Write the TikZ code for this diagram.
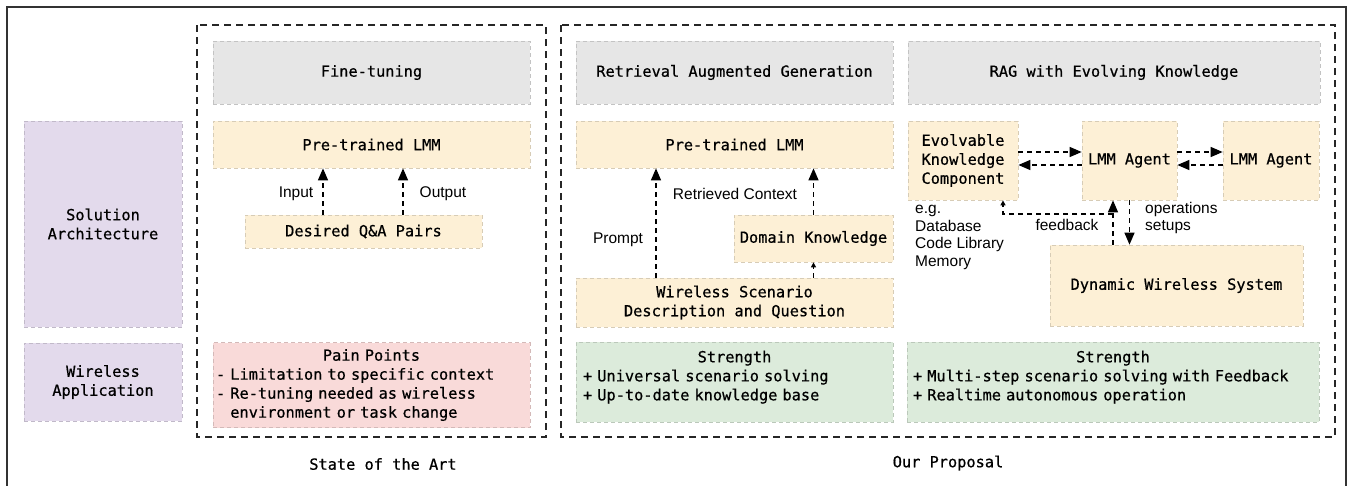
\documentclass[tikz,border=0pt]{standalone}
\usepackage{fontspec}
\setmainfont{Liberation Sans}
\setmonofont{DejaVu Sans Mono}[FakeBold=0.6]
\usetikzlibrary{arrows.meta,positioning}

\definecolor{hdrgray}{HTML}{E6E6E6}
\definecolor{lmmyellow}{HTML}{FDF0D6}
\definecolor{rowpurple}{HTML}{E3DAEC}
\definecolor{painred}{HTML}{F9DAD9}
\definecolor{strgreen}{HTML}{DCEBDB}

\begin{document}
\begin{tikzpicture}[x=1pt, y=-1pt,
  mono/.style={font=\ttfamily\fontsize{15.3}{19}\selectfont},
  lbl/.style={font=\fontsize{15.5}{17.6}\selectfont, align=left, inner sep=0pt},
  blk/.style={mono, fill=#1, draw=#1!85!black, dash pattern=on 4pt off 3pt,
              line width=0.7pt, align=center, inner sep=0pt},
  group/.style={draw=black!85, dash pattern=on 7pt off 5pt, line width=1.4pt},
  flow/.style={draw=black, dash pattern=on 5pt off 4pt, line width=1.3pt,
               -{Triangle[length=12pt,width=10pt]}},
  tinyflow/.style={flow, -{Triangle[length=5pt,width=5pt]}}]

\useasboundingbox (0,0) rectangle (1352,485);
\fill[white] (0,0) rectangle (1352,485);

% outer frame (open at the bottom)
\draw[black!80, line width=1.4pt] (7,486) -- (7,7) -- (1346,7) -- (1346,486);

% ===============================================================
% Row labels
% ===============================================================

\node[blk=rowpurple, minimum width=158, minimum height=206] (solarch) at (103,224) {Solution\\Architecture};
\node[blk=rowpurple, minimum width=158, minimum height=78]  (wlapp)   at (103,382) {Wireless\\Application};

% ===============================================================
% State of the art: fine-tuning
% ===============================================================

\draw[group] (197,25) rectangle (546,437);
\node[mono] (soa) at (383,464) {State of the Art};

\node[blk=hdrgray,    minimum width=317, minimum height=63] (fthdr) at (371.5,72.5)  {Fine-tuning};
\node[blk=lmmyellow,  minimum width=317, minimum height=47] (ftlmm) at (371.5,144.5) {Pre-trained LMM};
\node[blk=lmmyellow,  minimum width=237, minimum height=33] (qa)    at (363.5,231.5) {Desired Q\&A Pairs};

\node[blk=painred, minimum width=317, minimum height=85, text width=311, align=left] (pain) at (371.5,385)
  {{\centering Pain Points\par}- Limitation to specific context\\- Re-tuning needed as wireless\\\phantom{- }environment or task change};

\draw[flow] ([xshift=-40.5]qa.north) -- ([xshift=-40.5]qa.north |- ftlmm.south);
\draw[flow] ([xshift=39.5]qa.north)  -- ([xshift=39.5]qa.north |- ftlmm.south);
\node[lbl] (input)  at (296,194) {Input};
\node[lbl] (output) at (443,194) {Output};

% ===============================================================
% Our proposal
% ===============================================================

\draw[group] (561,25) rectangle (1335,437);
\node[mono] (ours) at (948,463) {Our Proposal};

% RAG column
\node[blk=hdrgray,   minimum width=317, minimum height=63] (raghdr) at (734.5,72.5)  {Retrieval Augmented Generation};
\node[blk=lmmyellow, minimum width=317, minimum height=47] (raglmm) at (734.5,144.5) {Pre-trained LMM};
\node[blk=lmmyellow, minimum width=159, minimum height=47] (domain) at (813.5,238.5) {Domain Knowledge};
\node[blk=lmmyellow, minimum width=317, minimum height=49] (scen)   at (734.5,302.5) {Wireless Scenario\\Description and Question};
\node[blk=strgreen, minimum width=317, minimum height=80, text width=303, align=left, text depth=51pt] (ragstr) at (734.5,382)
  {{\centering Strength\par}+ Universal scenario solving\\+ Up-to-date knowledge base};

\draw[flow] ([xshift=-78.5]scen.north) -- ([xshift=-78.5]scen.north |- raglmm.south);
\draw[flow] (domain.north) -- (domain.north |- raglmm.south);
\draw[tinyflow] (domain.south |- scen.north) -- (domain.south);
\node[lbl] (prompt)  at (618,240) {Prompt};
\node[lbl] (retctx)  at (735,194) {Retrieved Context};

% RAG with evolving knowledge column
\node[blk=hdrgray,   minimum width=412, minimum height=63] (evohdr) at (1114,72.5)   {RAG with Evolving Knowledge};
\node[blk=lmmyellow, minimum width=110, minimum height=79] (ekc)    at (963,160.5)   {Evolvable\\Knowledge\\Component};
\node[blk=lmmyellow, minimum width=95,  minimum height=79] (agent1) at (1129.5,160.5) {LMM Agent};
\node[blk=lmmyellow, minimum width=96,  minimum height=79] (agent2) at (1271,160.5)  {LMM Agent};
\node[blk=lmmyellow, minimum width=253, minimum height=81] (dws)    at (1176.5,285.5) {Dynamic Wireless System};
\node[blk=strgreen, minimum width=412, minimum height=80, text width=400, align=left, text depth=51pt] (evostr) at (1113,382)
  {{\centering Strength\par}+ Multi-step scenario solving with Feedback\\+ Realtime autonomous operation};

\draw[flow] ([yshift=8.5]ekc.east)     -- ([yshift=8.5]ekc.east -| agent1.west);
\draw[flow] ([yshift=-4.5]agent1.west) -- ([yshift=-4.5]agent1.west -| ekc.east);
\draw[flow] ([yshift=8.5]agent1.east)  -- ([yshift=8.5]agent1.east -| agent2.west);
\draw[flow] ([yshift=-4.5]agent2.west) -- ([yshift=-4.5]agent2.west -| agent1.east);

% feedback loop and operations
\draw[flow] ([xshift=-16.5]agent1.south |- dws.north) -- ([xshift=-16.5]agent1.south);
\draw[flow] (agent1.south) -- (agent1.south |- dws.north);
\coordinate (fbjoin) at (1113,214);
\draw[tinyflow] (fbjoin) -| ([xshift=40]ekc.south);

\node[lbl] (fblbl) at (1067,225) {feedback};
\node[lbl, anchor=west] (opslbl) at (1145,218) {operations\\setups};
\node[lbl, anchor=west] (eglbl)  at (915,237.5) {e.g.\\Database\\Code Library\\Memory};

\end{tikzpicture}
\end{document}
